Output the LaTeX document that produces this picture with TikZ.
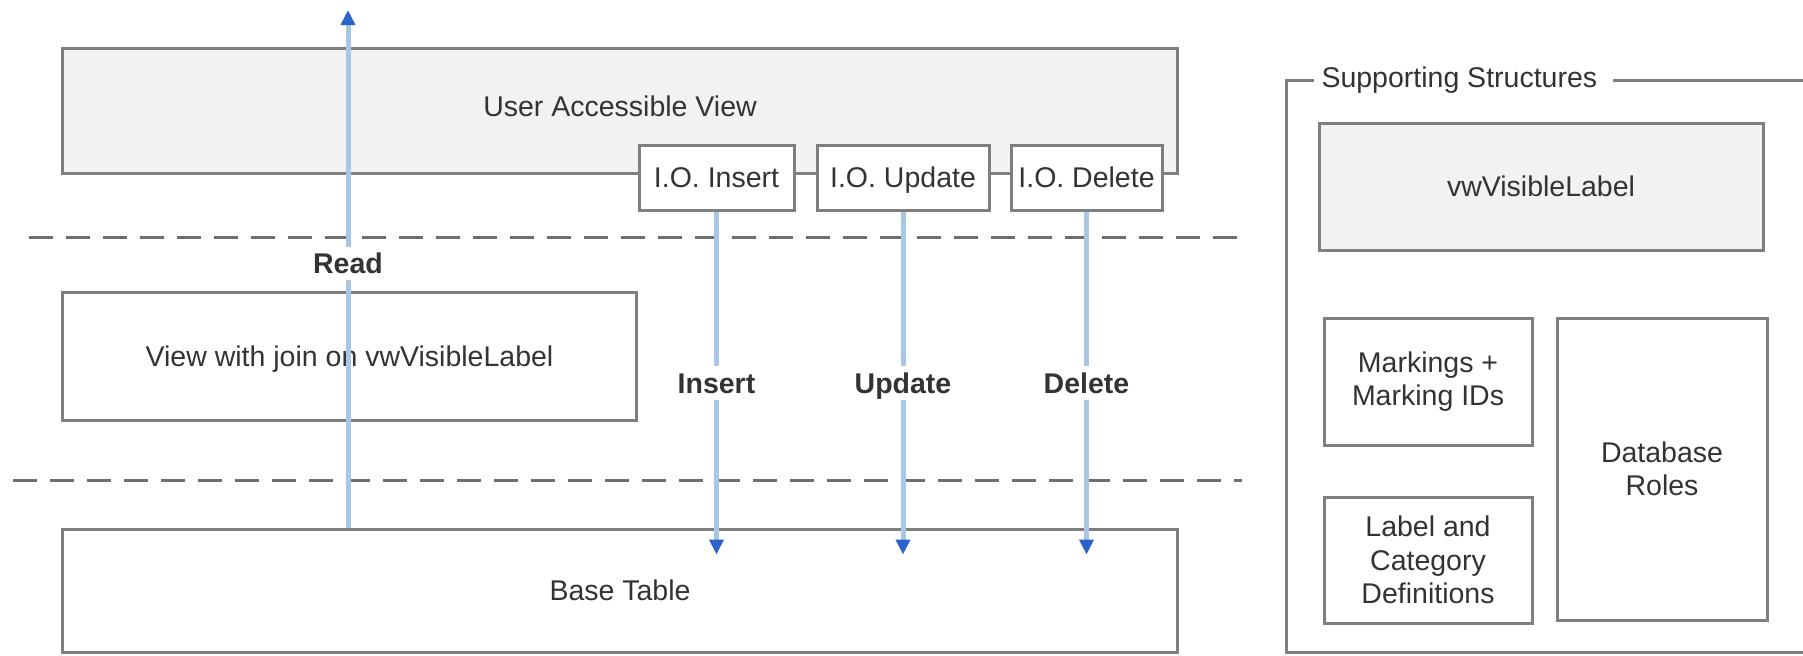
\documentclass[tikz,border=0pt]{standalone}
\usepackage{fontspec}
\setmainfont{Liberation Sans}
\usetikzlibrary{arrows.meta,calc}

\definecolor{edge}{HTML}{7F7F7F}
\definecolor{panel}{HTML}{F2F2F2}
\definecolor{ink}{HTML}{333333}
\definecolor{flow}{HTML}{A9C7E5}
\definecolor{tipblue}{HTML}{2A63C9}
\definecolor{rule}{HTML}{6E6E6E}

\begin{document}
\begin{tikzpicture}[x=0.4pt,y=-0.4pt,
  every node/.style={font=\fontsize{11.4}{13.4}\selectfont, text=ink},
  oneline/.style={text height=8.2pt, text depth=0pt},
  box/.style={rectangle, draw=edge, line width=1.2pt, fill=white,
    inner sep=0pt, align=center},
  shaded/.style={box, fill=panel},
  frame/.style={draw=edge, line width=1.2pt},
  layer/.style={draw=rule, line width=1.2pt, dash pattern=on 9.6pt off 5.2pt},
  flowline/.style={draw=flow, line width=2pt,
    -{Triangle[length=6pt,width=5.6pt,color=tipblue]}},
  flowlabel/.style={oneline, fill=white, inner xsep=1pt, inner ysep=2.6pt,
    font=\fontsize{11.4}{13.4}\selectfont\bfseries},
]
\useasboundingbox (0,0) rectangle (1803,655);

% layers of the data path
\node[shaded, minimum width=445.6pt, minimum height=50pt] (uav) at (620,110.5) {};
\node[oneline, inner sep=0pt] (uavtext) at (620,106) {User Accessible View};
\node[box, oneline, minimum width=62pt, minimum height=26pt] (ioins) at (716.5,177.5) {I.O. Insert};
\node[box, oneline, minimum width=68.8pt, minimum height=26pt] (ioupd) at (903,177.5) {I.O. Update};
\node[box, oneline, minimum width=60.4pt, minimum height=26pt] (iodel) at (1086.5,177.5) {I.O. Delete};

\node[box, oneline, minimum width=229.2pt, minimum height=51.2pt] (join) at (349.5,356)
  {View with join on vwVisibleLabel};
\node[box, oneline, minimum width=445.6pt, minimum height=49.2pt] (base) at (620,590.5)
  {Base Table};

% layer separators
\coordinate (sepA0) at (29,237);
\coordinate (sepA1) at (1242,237);
\coordinate (sepB0) at (13,480);
\coordinate (sepB1) at (1242,480);
\draw[layer] (sepA0) -- (sepA1);
\draw[layer] (sepB0) -- (sepB1);

% data flows
\coordinate (readtip) at (348,10);
\draw[flowline] (readtip |- base.north) -- node[flowlabel, pos=0.51] {Read} (readtip);
\draw[flowline] (ioins.south) -- node[flowlabel] {Insert} ($(ioins.south |- base.north)+(0,27)$);
\draw[flowline] (ioupd.south) -- node[flowlabel] {Update} ($(ioupd.south |- base.north)+(0,27)$);
\draw[flowline] (iodel.south) -- node[flowlabel] {Delete} ($(iodel.south |- base.north)+(0,27)$);

% supporting structures
\node[anchor=west, inner xsep=2.8pt, inner ysep=0pt] (suptitle) at (1314,80)
  {Supporting Structures};
\coordinate (frameTL) at (1286,80);
\coordinate (frameBL) at (1286,652);
\coordinate (frameBR) at (1803,652);
\coordinate (frameTR) at (1803,80);
\draw[frame] (suptitle.west |- frameTL) -- (frameTL) -- (frameBL) -- (frameBR);
\draw[frame] ([xshift=3.2pt]suptitle.east |- frameTR) -- (frameTR);

\node[shaded, oneline, minimum width=177.6pt, minimum height=50.8pt] (vwlabel) at (1541,186.5)
  {vwVisibleLabel};
\node[box, minimum width=83.2pt, minimum height=50.8pt] (markings) at (1428,381.5)
  {Markings +\\Marking IDs};
\node[box, minimum width=83.2pt, minimum height=50.4pt] (labeldefs) at (1428,560)
  {Label and\\Category\\Definitions};
\node[box, minimum width=84pt, minimum height=120.8pt] (roles) at (1662,469)
  {Database\\Roles};
\end{tikzpicture}
\end{document}
